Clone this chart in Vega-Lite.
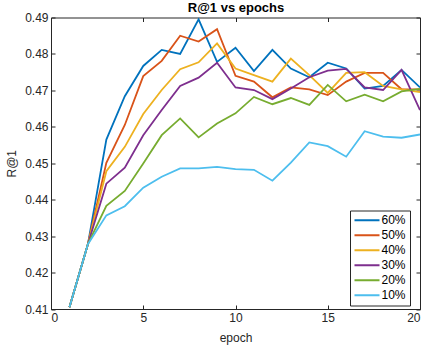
{
  "$schema": "https://vega.github.io/schema/vega-lite/v6.json",
  "width": 369,
  "height": 291.5,
  "autosize": {"type": "none"},
  "padding": {"left": 51, "top": 17.5, "right": 8, "bottom": 37},
  "background": "white",
  "config": {
    "font": "Liberation Sans",
    "view": {"stroke": "#262626", "strokeWidth": 1},
    "axis": {
      "grid": false,
      "domainColor": "#262626",
      "tickColor": "#262626",
      "labelColor": "#262626",
      "labelFontSize": 12,
      "titleFontSize": 12,
      "titleFontWeight": "normal",
      "titleColor": "#262626",
      "tickSize": -4,
      "labelPadding": 7
    }
  },
  "data": {
    "values": [
      {"epoch":1,"series":"60%","r1":0.4105},{"epoch":2,"series":"60%","r1":0.4278},{"epoch":3,"series":"60%","r1":0.4565},{"epoch":4,"series":"60%","r1":0.4684},{"epoch":5,"series":"60%","r1":0.4767},{"epoch":6,"series":"60%","r1":0.4811},{"epoch":7,"series":"60%","r1":0.4800},{"epoch":8,"series":"60%","r1":0.4895},{"epoch":9,"series":"60%","r1":0.4778},{"epoch":10,"series":"60%","r1":0.4817},{"epoch":11,"series":"60%","r1":0.4753},{"epoch":12,"series":"60%","r1":0.4811},{"epoch":13,"series":"60%","r1":0.4760},{"epoch":14,"series":"60%","r1":0.4736},{"epoch":15,"series":"60%","r1":0.4776},{"epoch":16,"series":"60%","r1":0.4760},{"epoch":17,"series":"60%","r1":0.4705},{"epoch":18,"series":"60%","r1":0.4712},{"epoch":19,"series":"60%","r1":0.4756},{"epoch":20,"series":"60%","r1":0.4708},
      {"epoch":1,"series":"50%","r1":0.4105},{"epoch":2,"series":"50%","r1":0.4278},{"epoch":3,"series":"50%","r1":0.4501},{"epoch":4,"series":"50%","r1":0.4605},{"epoch":5,"series":"50%","r1":0.4739},{"epoch":6,"series":"50%","r1":0.4781},{"epoch":7,"series":"50%","r1":0.4850},{"epoch":8,"series":"50%","r1":0.4834},{"epoch":9,"series":"50%","r1":0.4868},{"epoch":10,"series":"50%","r1":0.4740},{"epoch":11,"series":"50%","r1":0.4724},{"epoch":12,"series":"50%","r1":0.4681},{"epoch":13,"series":"50%","r1":0.4708},{"epoch":14,"series":"50%","r1":0.4703},{"epoch":15,"series":"50%","r1":0.4687},{"epoch":16,"series":"50%","r1":0.4724},{"epoch":17,"series":"50%","r1":0.4748},{"epoch":18,"series":"50%","r1":0.4748},{"epoch":19,"series":"50%","r1":0.4703},{"epoch":20,"series":"50%","r1":0.4703},
      {"epoch":1,"series":"40%","r1":0.4105},{"epoch":2,"series":"40%","r1":0.4278},{"epoch":3,"series":"40%","r1":0.4478},{"epoch":4,"series":"40%","r1":0.4545},{"epoch":5,"series":"40%","r1":0.4635},{"epoch":6,"series":"40%","r1":0.4701},{"epoch":7,"series":"40%","r1":0.4758},{"epoch":8,"series":"40%","r1":0.4777},{"epoch":9,"series":"40%","r1":0.4829},{"epoch":10,"series":"40%","r1":0.4760},{"epoch":11,"series":"40%","r1":0.4742},{"epoch":12,"series":"40%","r1":0.4724},{"epoch":13,"series":"40%","r1":0.4787},{"epoch":14,"series":"40%","r1":0.4742},{"epoch":15,"series":"40%","r1":0.4693},{"epoch":16,"series":"40%","r1":0.4748},{"epoch":17,"series":"40%","r1":0.4750},{"epoch":18,"series":"40%","r1":0.4712},{"epoch":19,"series":"40%","r1":0.4703},{"epoch":20,"series":"40%","r1":0.4695},
      {"epoch":1,"series":"30%","r1":0.4105},{"epoch":2,"series":"30%","r1":0.4278},{"epoch":3,"series":"30%","r1":0.4444},{"epoch":4,"series":"30%","r1":0.4488},{"epoch":5,"series":"30%","r1":0.4577},{"epoch":6,"series":"30%","r1":0.4646},{"epoch":7,"series":"30%","r1":0.4712},{"epoch":8,"series":"30%","r1":0.4735},{"epoch":9,"series":"30%","r1":0.4776},{"epoch":10,"series":"30%","r1":0.4708},{"epoch":11,"series":"30%","r1":0.4701},{"epoch":12,"series":"30%","r1":0.4676},{"epoch":13,"series":"30%","r1":0.4705},{"epoch":14,"series":"30%","r1":0.4736},{"epoch":15,"series":"30%","r1":0.4754},{"epoch":16,"series":"30%","r1":0.4759},{"epoch":17,"series":"30%","r1":0.4708},{"epoch":18,"series":"30%","r1":0.4701},{"epoch":19,"series":"30%","r1":0.4756},{"epoch":20,"series":"30%","r1":0.4646},
      {"epoch":1,"series":"20%","r1":0.4105},{"epoch":2,"series":"20%","r1":0.4278},{"epoch":3,"series":"20%","r1":0.4383},{"epoch":4,"series":"20%","r1":0.4424},{"epoch":5,"series":"20%","r1":0.4499},{"epoch":6,"series":"20%","r1":0.4577},{"epoch":7,"series":"20%","r1":0.4623},{"epoch":8,"series":"20%","r1":0.4571},{"epoch":9,"series":"20%","r1":0.4609},{"epoch":10,"series":"20%","r1":0.4637},{"epoch":11,"series":"20%","r1":0.4682},{"epoch":12,"series":"20%","r1":0.4662},{"epoch":13,"series":"20%","r1":0.4679},{"epoch":14,"series":"20%","r1":0.4660},{"epoch":15,"series":"20%","r1":0.4715},{"epoch":16,"series":"20%","r1":0.4670},{"epoch":17,"series":"20%","r1":0.4688},{"epoch":18,"series":"20%","r1":0.4670},{"epoch":19,"series":"20%","r1":0.4697},{"epoch":20,"series":"20%","r1":0.4704},
      {"epoch":1,"series":"10%","r1":0.4105},{"epoch":2,"series":"10%","r1":0.4278},{"epoch":3,"series":"10%","r1":0.4357},{"epoch":4,"series":"10%","r1":0.4382},{"epoch":5,"series":"10%","r1":0.4433},{"epoch":6,"series":"10%","r1":0.4463},{"epoch":7,"series":"10%","r1":0.4486},{"epoch":8,"series":"10%","r1":0.4486},{"epoch":9,"series":"10%","r1":0.4490},{"epoch":10,"series":"10%","r1":0.4484},{"epoch":11,"series":"10%","r1":0.4482},{"epoch":12,"series":"10%","r1":0.4452},{"epoch":13,"series":"10%","r1":0.4502},{"epoch":14,"series":"10%","r1":0.4557},{"epoch":15,"series":"10%","r1":0.4547},{"epoch":16,"series":"10%","r1":0.4518},{"epoch":17,"series":"10%","r1":0.4588},{"epoch":18,"series":"10%","r1":0.4573},{"epoch":19,"series":"10%","r1":0.4570},{"epoch":20,"series":"10%","r1":0.4579}
    ]
  },
  "resolve": {"axis": {"x": "independent", "y": "independent"}},
  "layer": [
    {
      "mark": {"type": "line", "strokeWidth": 1.8, "clip": true},
      "encoding": {
        "x": {
          "field": "epoch", "type": "quantitative",
          "scale": {"domain": [0, 20], "nice": false, "zero": false},
          "axis": {"orient": "bottom", "values": [0, 5, 10, 15, 20], "title": "epoch", "titlePadding": 9}
        },
        "y": {
          "field": "r1", "type": "quantitative",
          "scale": {"domain": [0.41, 0.49], "nice": false, "zero": false},
          "axis": {"orient": "left", "values": [0.41, 0.42, 0.43, 0.44, 0.45, 0.46, 0.47, 0.48, 0.49], "format": ".2f", "title": "R@1", "titlePadding": 6}
        },
        "color": {
          "field": "series", "type": "nominal",
          "sort": ["60%", "50%", "40%", "30%", "20%", "10%"],
          "scale": {"domain": ["60%", "50%", "40%", "30%", "20%", "10%"], "range": ["#0072BD", "#D95319", "#EDB120", "#7E2F8E", "#77AC30", "#4DBEEE"]},
          "legend": {
            "title": null,
            "orient": "none",
            "legendX": 299,
            "legendY": 193,
            "fillColor": "white",
            "strokeColor": "#262626",
            "padding": 3.5,
            "symbolType": "stroke",
            "symbolStrokeWidth": 2,
            "symbolSize": 625,
            "clipHeight": 12.7,
            "labelFontSize": 12,
            "labelColor": "black",
            "labelOffset": 1,
            "rowPadding": 2
          }
        }
      }
    },
    {
      "mark": {"type": "point", "opacity": 0},
      "encoding": {
        "x": {
          "field": "epoch", "type": "quantitative",
          "axis": {
            "orient": "top", "values": [0, 5, 10, 15, 20], "labels": false, "domain": false,
            "title": "R@1 vs epochs",
            "titleFontSize": 13, "titleFontWeight": "bold", "titleColor": "black",
            "titleX": 184.5, "titleY": -6.5, "titleAlign": "center", "titleBaseline": "alphabetic"
          }
        },
        "y": {
          "field": "r1", "type": "quantitative",
          "axis": {"orient": "right", "values": [0.41, 0.42, 0.43, 0.44, 0.45, 0.46, 0.47, 0.48, 0.49], "labels": false, "title": null, "domain": false}
        }
      }
    }
  ]
}
